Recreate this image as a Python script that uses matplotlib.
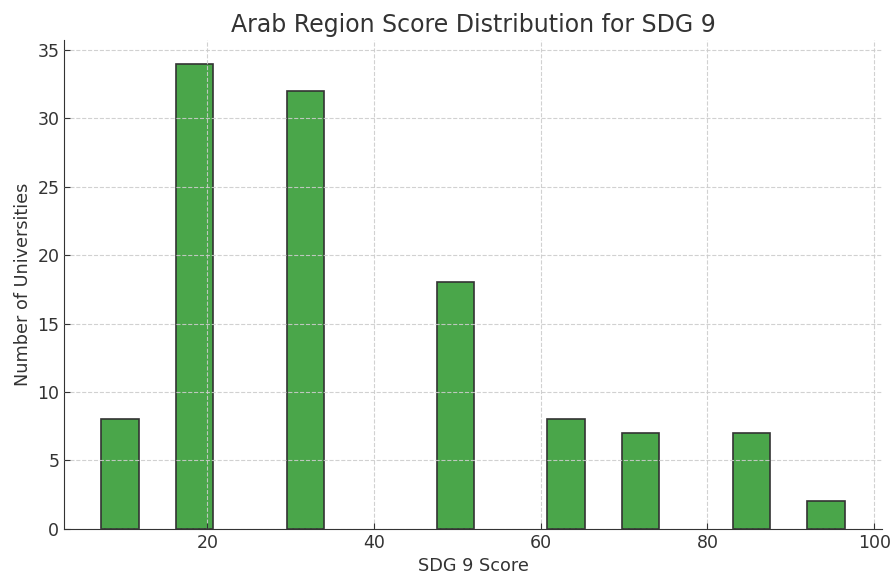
import matplotlib
matplotlib.use("Agg")
import matplotlib.pyplot as plt

bin_lefts = [7.3, 16.2, 29.6, 47.5, 60.8, 69.7, 83.1, 92.0]
counts = [8, 34, 32, 18, 8, 7, 7, 2]
bin_width = 4.46
x_range = (7.3, 96.5)

plt.rcParams['font.family'] = ['DejaVu Sans']
fig = plt.figure(figsize=(8.92, 5.76), dpi=100)
ax = fig.add_axes([0.072, 0.082, 0.917, 0.848])

ax.bar(bin_lefts, counts, width=bin_width, align='edge', color='#4aa64a',
       edgecolor='#333333', linewidth=1.2, zorder=1)
pad = (x_range[1] - x_range[0]) * 0.05
ax.set_xlim(x_range[0] - pad, x_range[1] + pad)
ax.set_ylim(0, max(counts) * 1.05)

ax.grid(True, linestyle='--', color='#cccccc', linewidth=0.8, alpha=0.9, zorder=2)
ax.set_axisbelow(False)
for s in ['top', 'right']:
    ax.spines[s].set_visible(False)
for s in ['left', 'bottom']:
    ax.spines[s].set_color('#333333')
ax.tick_params(direction='in', colors='#333333', labelsize=12.5, length=4)
ax.set_xticks([20, 40, 60, 80, 100])
ax.set_xlabel('SDG 9 Score', fontsize=12.7, color='#333333')
ax.set_ylabel('Number of Universities', fontsize=12.7, color='#333333')
ax.set_title('Arab Region Score Distribution for SDG 9', fontsize=17, color='#333333')

fig.savefig('out.png', dpi=100)
